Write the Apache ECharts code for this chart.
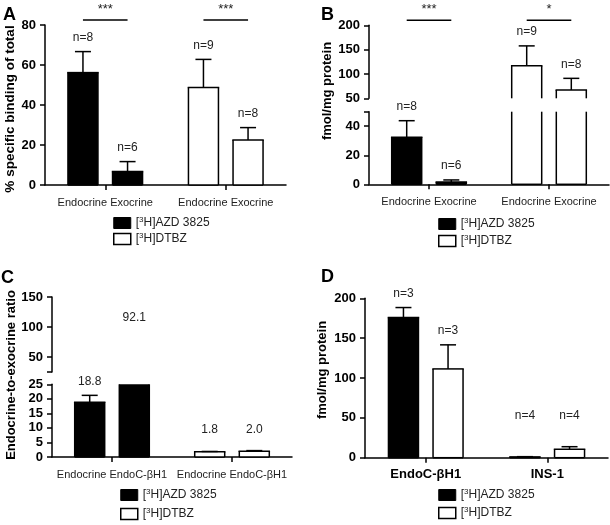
<!DOCTYPE html>
<html>
<head>
<meta charset="utf-8">
<script src="https://cdn.jsdelivr.net/npm/echarts@6/dist/echarts.min.js"></script>
<style>html,body{margin:0;padding:0;background:#fff}#c{width:610px;height:525px}</style>
</head>
<body>
<div id="c"></div>
<script>
// ---------- DATA ----------
const AZD = '[3H]AZD 3825';
const DTBZ = '[3H]DTBZ';

// Panel A : % specific binding of total
const aGroups = ['Endocrine Exocrine', 'Endocrine Exocrine'];
const aAzdMean = [56.2, 6.7];
const aAzdSem = [10.5, 5.0];
const aAzdN = ['n=8', 'n=6'];
const aDtbzMean = [48.8, 22.5];
const aDtbzSem = [14.0, 6.2];
const aDtbzN = ['n=9', 'n=8'];
const aSig = ['***', '***'];

// Panel B : fmol/mg protein (broken axis)
const bGroups = ['Endocrine Exocrine', 'Endocrine Exocrine'];
const bAzdMean = [32.4, 1.6];
const bAzdSem = [11.4, 1.4];
const bAzdN = ['n=8', 'n=6'];
const bDtbzMean = [116.7, 67.0];
const bDtbzSem = [41.0, 24.0];
const bDtbzN = ['n=9', 'n=8'];
const bSig = ['***', '*'];
const bUpperTicks = [50, 100, 150, 200];
const bLowerTicks = [0, 20, 40, 50];
const bLowerLabels = [0, 20, 40];

// Panel C : Endocrine-to-exocrine ratio (broken axis)
const cGroups = ['Endocrine EndoC-\u03b2H1', 'Endocrine EndoC-\u03b2H1'];
const cAzdRatio = [18.8, 92.1];
const cAzdSem = [2.4, 0];
const cAzdText = ['18.8', '92.1'];
const cDtbzRatio = [1.8, 2.0];
const cDtbzSem = [0.1, 0.2];
const cDtbzText = ['1.8', '2.0'];
const cUpperTicks = [25, 50, 100, 150];
const cUpperLabels = [50, 100, 150];

// Panel D : fmol/mg protein
const dGroups = ['EndoC-\u03b2H1', 'INS-1'];
const dAzdMean = [175.9, 1.0];
const dAzdSem = [12.5, 0.3];
const dAzdN = ['n=3', 'n=4'];
const dDtbzMean = [111.4, 10.5];
const dDtbzSem = [30.2, 3.3];
const dDtbzN = ['n=3', 'n=4'];

// ---------- STYLE ----------
const FONT = '"Liberation Sans", Arial, Helvetica, sans-serif';
const BAR_W = 30, OFF = 22.3, CAP = 16, LW = 1.5, LABEL_GAP = 14;

function barSeries(o) {
  return {
    type: 'custom', name: o.name, xAxisIndex: o.grid, yAxisIndex: o.grid,
    itemStyle: { color: o.fill, borderColor: '#000' },
    data: o.items, encode: { x: 0, y: 2 }, clip: false, silent: true, z: 5,
    renderItem: function (params, api) {
      const i = params.dataIndex;
      const g = api.value(0), slot = api.value(1), v = api.value(2);
      const sem = (o.sem && o.sem[i]) || 0;
      const cx = api.coord([g, o.ymin])[0] + (slot === 0 ? -OFF : OFF);
      const y = val => api.coord([g, val])[1];
      const kids = [];
      const line = (x1, y1, x2, y2) => kids.push({ type: 'line', shape: { x1, y1, x2, y2 }, style: { stroke: '#000', lineWidth: LW } });
      if (o.bar && v > o.ymin) {
        const yT = y(Math.min(v, o.ymax)), yB = y(o.ymin);
        const x0 = cx - BAR_W / 2, x1 = cx + BAR_W / 2;
        kids.push({ type: 'rect', shape: { x: x0, y: yT, width: BAR_W, height: yB - yT }, style: { fill: o.fill } });
        line(x0, yT, x0, yB); line(x1, yT, x1, yB);
        if (v <= o.ymax) line(x0 - LW / 2, yT, x1 + LW / 2, yT);
        if (o.ymin <= 0) line(x0, yB, x1, yB);
      }
      if (o.err && sem > 0 && v >= o.ymin && v + sem <= o.ymax * 1.02) {
        const yV = y(v), yE = y(v + sem);
        line(cx, yV, cx, yE); line(cx - CAP / 2, yE, cx + CAP / 2, yE);
      }
      if (o.label && o.labels && o.labels[i] && v >= o.ymin && v <= o.ymax) {
        const anchor = Math.max(v + sem, o.floor || 0);
        kids.push({ type: 'text', x: cx, y: y(anchor) - LABEL_GAP,
          style: { text: o.labels[i], fill: '#222', fontSize: 12, fontFamily: FONT, align: 'center', verticalAlign: 'middle' } });
      }
      return { type: 'group', children: kids };
    }
  };
}

function sigSeries(grid, ymin, texts) {
  return {
    type: 'custom', xAxisIndex: grid, yAxisIndex: grid,
    data: texts.map((t, g) => [g, ymin]), encode: { x: 0, y: 1 }, clip: false, silent: true,
    renderItem: function (params, api) {
      const g = api.value(0);
      const cx = api.coord([g, ymin])[0];
      const ly = params.coordSys.y - 5;
      return { type: 'group', children: [
        { type: 'line', shape: { x1: cx - OFF, y1: ly, x2: cx + OFF, y2: ly }, style: { stroke: '#000', lineWidth: LW } },
        { type: 'text', x: cx, y: ly - 11, style: { text: texts[g], fill: '#222', fontSize: 13, fontFamily: FONT, align: 'center', verticalAlign: 'middle' } }
      ] };
    }
  };
}

const lineStyle = { color: '#000', width: LW };
function xAxis(grid, data, show, bold) {
  return {
    type: 'category', gridIndex: grid, data: data, show: show,
    axisLine: { show: true, onZero: false, lineStyle: lineStyle },
    axisTick: { show: true, alignWithLabel: true, length: 5, lineStyle: lineStyle },
    axisLabel: Object.assign({ interval: 0, hideOverlap: false, fontFamily: FONT },
      bold ? { margin: 10, fontSize: 13, fontWeight: 'bold', color: '#000' }
           : { margin: 12, fontSize: 11, color: '#222' })
  };
}
function yAxis(grid, min, max, interval, ticks, labels) {
  const ax = {
    type: 'value', gridIndex: grid, min: min, max: max,
    splitLine: { show: false },
    axisLine: { show: true, lineStyle: lineStyle },
    axisTick: { show: true, length: 5, lineStyle: lineStyle },
    axisLabel: { margin: 9, fontSize: 13, fontWeight: 'bold', color: '#000', fontFamily: FONT }
  };
  if (interval) ax.interval = interval;
  if (ticks) ax.axisTick.customValues = ticks;
  if (labels) ax.axisLabel.customValues = labels;
  return ax;
}

const grids = [
  { left: 45, top: 25, width: 241, height: 160 },          // A
  { left: 369, top: 25.3, width: 240, height: 73 },        // B upper
  { left: 369, top: 111.7, width: 240, height: 72.6 },     // B lower
  { left: 52, top: 297, width: 240, height: 75 },          // C upper
  { left: 52, top: 384.3, width: 240, height: 72.7 },      // C lower
  { left: 365, top: 298.3, width: 243, height: 159.4 }     // D
];

const xAxes = [
  xAxis(0, aGroups, true, false),
  xAxis(1, bGroups, false, false),
  xAxis(2, bGroups, true, false),
  xAxis(3, cGroups, false, false),
  xAxis(4, cGroups, true, false),
  xAxis(5, dGroups, true, true)
];
const yAxes = [
  yAxis(0, 0, 80, 20),
  yAxis(1, 50, 200, 50, bUpperTicks, bUpperTicks),
  yAxis(2, 0, 50, null, bLowerTicks, bLowerLabels),
  yAxis(3, 25, 150, null, cUpperTicks, cUpperLabels),
  yAxis(4, 0, 25, 5),
  yAxis(5, 0, 200, 50)
];

const groupItems = (arr, g) => arr.map((v, i) => [g, i, v]);
const slotItems = (arr, s) => arr.map((v, i) => [i, s, v]);

const series = [
  // A
  barSeries({ name: AZD, grid: 0, items: groupItems(aAzdMean, 0), sem: aAzdSem, labels: aAzdN, fill: '#000', ymin: 0, ymax: 80, bar: true, err: true, label: true }),
  barSeries({ name: DTBZ, grid: 0, items: groupItems(aDtbzMean, 1), sem: aDtbzSem, labels: aDtbzN, fill: '#fff', ymin: 0, ymax: 80, bar: true, err: true, label: true }),
  sigSeries(0, 0, aSig),
  // B
  barSeries({ name: DTBZ, grid: 1, items: groupItems(bDtbzMean, 1), sem: bDtbzSem, labels: bDtbzN, fill: '#fff', ymin: 50, ymax: 200, bar: true, err: true, label: true }),
  barSeries({ name: AZD, grid: 2, items: groupItems(bAzdMean, 0), sem: bAzdSem, labels: bAzdN, fill: '#000', ymin: 0, ymax: 50, bar: true, err: true, label: true }),
  barSeries({ name: DTBZ, grid: 2, items: groupItems(bDtbzMean, 1), sem: bDtbzSem, labels: bDtbzN, fill: '#fff', ymin: 0, ymax: 50, bar: true, err: true, label: true }),
  sigSeries(1, 50, bSig),
  // C
  barSeries({ name: AZD, grid: 3, items: groupItems(cAzdRatio, 0), sem: cAzdSem, labels: cAzdText, fill: '#000', ymin: 25, ymax: 150, bar: false, err: false, label: true }),
  barSeries({ name: AZD, grid: 4, items: groupItems(cAzdRatio, 0), sem: cAzdSem, labels: cAzdText, fill: '#000', ymin: 0, ymax: 25, bar: true, err: true, label: true }),
  barSeries({ name: DTBZ, grid: 4, items: groupItems(cDtbzRatio, 1), sem: cDtbzSem, labels: cDtbzText, fill: '#fff', ymin: 0, ymax: 25, bar: true, err: true, label: true, floor: 4.5 }),
  // D
  barSeries({ name: AZD, grid: 5, items: slotItems(dAzdMean, 0), sem: dAzdSem, labels: dAzdN, fill: '#000', ymin: 0, ymax: 200, bar: true, err: true, label: true, floor: 35 }),
  barSeries({ name: DTBZ, grid: 5, items: slotItems(dDtbzMean, 1), sem: dDtbzSem, labels: dDtbzN, fill: '#fff', ymin: 0, ymax: 200, bar: true, err: true, label: true, floor: 35 })
];

function legend(left, top, gap) {
  return {
    orient: 'vertical', left: left, top: top, padding: 0, itemGap: gap,
    itemWidth: 17, itemHeight: 11, icon: 'rect', selectedMode: false,
    data: [
      { name: AZD, itemStyle: { color: '#000', borderColor: '#000', borderWidth: 1 } },
      { name: DTBZ, itemStyle: { color: '#fff', borderColor: '#000', borderWidth: 1.5 } }
    ],
    formatter: n => n.replace('[3H]', '[{s|3}H]'),
    textStyle: { fontSize: 12, color: '#222', fontFamily: FONT, lineHeight: 14,
      rich: { s: { fontSize: 8, lineHeight: 8, verticalAlign: 'top', fontFamily: FONT, color: '#222' } } }
  };
}

function letter(t, x, y) {
  return { type: 'text', x: x, y: y, style: { text: t, fontSize: 18, fontWeight: 'bold', fill: '#000', fontFamily: FONT, align: 'left', verticalAlign: 'top' } };
}
function yTitle(t, x, y, size) {
  return { type: 'text', x: x, y: y, rotation: Math.PI / 2,
    style: { text: t, fontSize: size, fontWeight: 'bold', fill: '#000', fontFamily: FONT, align: 'center', verticalAlign: 'middle' } };
}

const chart = echarts.init(document.getElementById('c'), null, { renderer: 'canvas' });
chart.setOption({
  animation: false,
  backgroundColor: '#fff',
  grid: grids,
  xAxis: xAxes,
  yAxis: yAxes,
  series: series,
  legend: [legend(113, 216, 2), legend(438, 217, 3), legend(120, 488, 5), legend(438, 488, 4)],
  graphic: [
    letter('A', 3, 6), letter('B', 321, 6), letter('C', 1, 269), letter('D', 321, 268),
    yTitle('% specific binding of total', 10, 109, 13.5),
    yTitle('fmol/mg protein', 327, 91, 13),
    yTitle('Endocrine-to-exocrine ratio', 11, 375, 13),
    yTitle('fmol/mg protein', 322, 370, 13)
  ]
});
</script>
</body>
</html>
